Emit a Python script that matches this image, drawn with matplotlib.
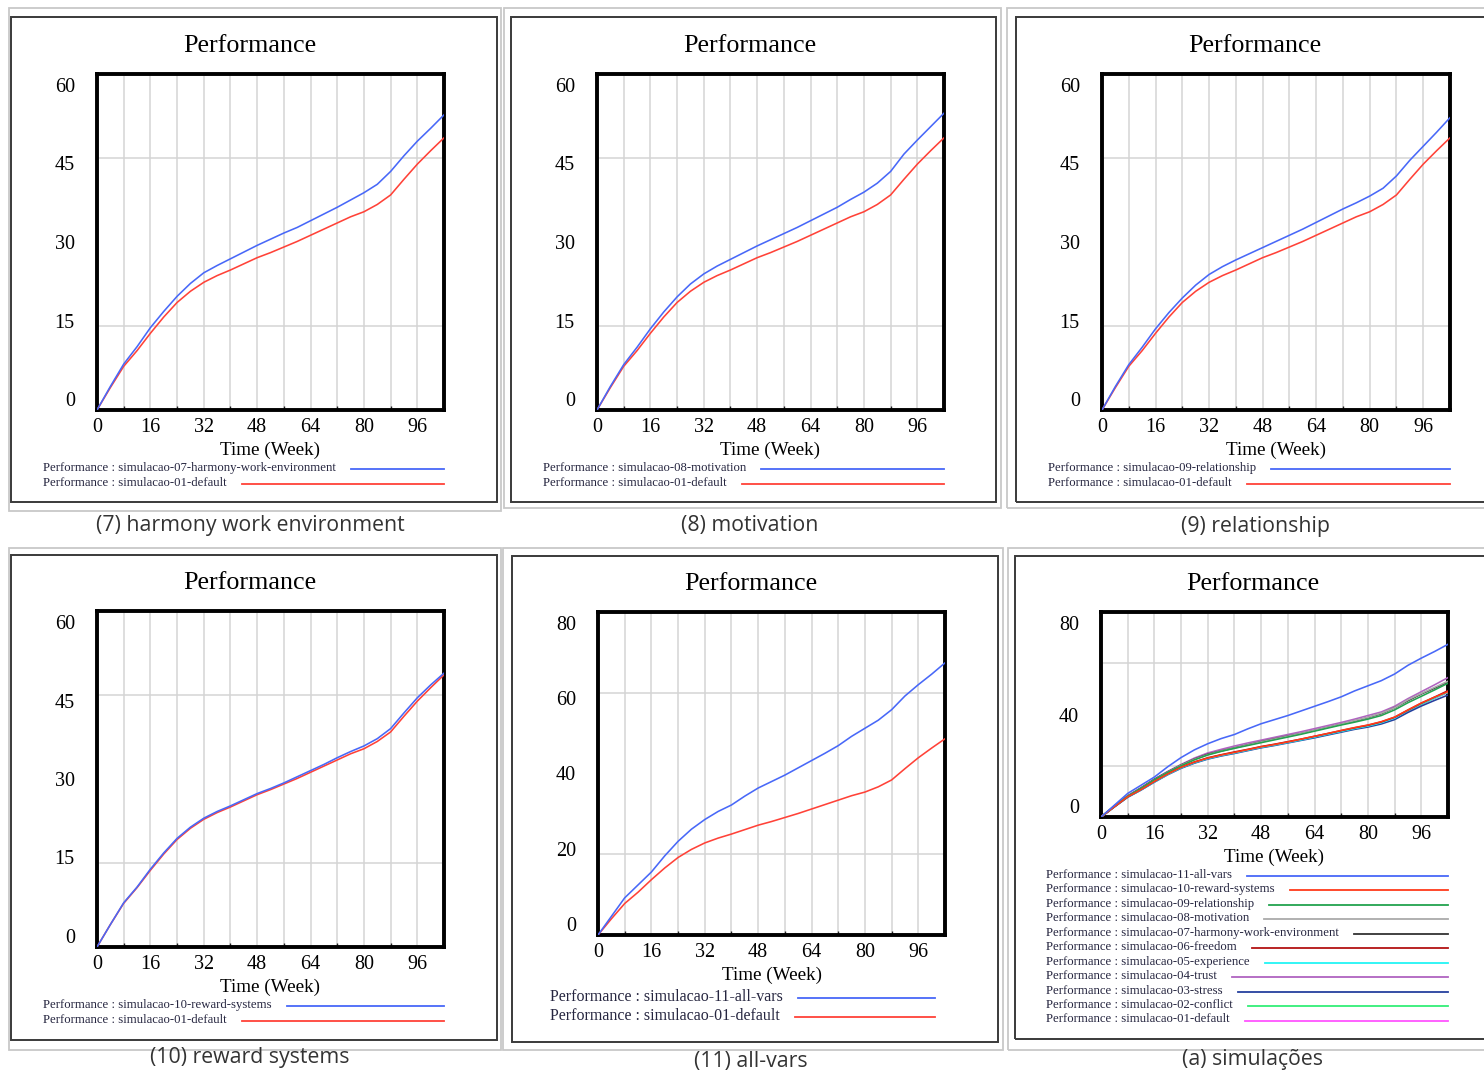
"""Six Vensim-style 'Performance' run charts (simulation comparisons)."""

import matplotlib

matplotlib.use("Agg")

import matplotlib.pyplot as plt
from matplotlib.lines import Line2D
from matplotlib.patches import Rectangle

W, H = 1484, 1073
SERIF = "Liberation Serif"
SANS = "Open Sans"

# time axis (weeks)
WEEKS = [0, 4, 8, 12, 16, 20, 24, 28, 32, 36, 40, 44, 48, 52,
         56, 60, 64, 68, 72, 76, 80, 84, 88, 92, 96, 100, 104]

# Performance per scenario
PERF_01_DEFAULT = [0, 4.0, 7.8, 10.6, 13.7, 16.6, 19.2, 21.2, 22.8, 24.0, 25.0, 26.1, 27.2, 28.1,
                   29.1, 30.1, 31.2, 32.3, 33.4, 34.5, 35.4, 36.7, 38.4, 41.2, 43.9, 46.3, 48.6]
PERF_02_CONFLICT = [0, 4.0, 7.8, 10.7, 13.8, 16.7, 19.3, 21.3, 22.9, 24.1, 25.1, 26.2, 27.3, 28.2,
                    29.2, 30.2, 31.3, 32.4, 33.5, 34.6, 35.6, 36.9, 38.6, 41.4, 44.0, 46.4, 48.7]
PERF_03_STRESS = [0, 3.9, 7.7, 10.5, 13.6, 16.5, 19.0, 21.0, 22.6, 23.8, 24.8, 25.9, 27.0, 27.9,
                  28.9, 29.9, 30.9, 32.0, 33.1, 34.2, 35.1, 36.3, 38.0, 40.8, 43.3, 45.5, 47.6]
PERF_04_TRUST = [0, 4.3, 8.3, 11.5, 14.8, 17.8, 20.5, 23.0, 25.0, 26.4, 27.7, 28.9, 30.0, 31.1,
                 32.2, 33.3, 34.5, 35.7, 36.9, 38.2, 39.6, 41.0, 43.2, 46.2, 48.9, 51.6, 54.4]
PERF_05_EXPERIENCE = [0, 4.0, 7.8, 10.6, 13.7, 16.6, 19.2, 21.2, 22.8, 24.0, 25.0, 26.1, 27.2, 28.1,
                      29.1, 30.1, 31.2, 32.3, 33.4, 34.5, 35.5, 36.8, 38.6, 41.6, 44.2, 46.5, 48.8]
PERF_06_FREEDOM = [0, 4.0, 7.9, 10.8, 13.9, 16.9, 19.5, 21.5, 23.1, 24.3, 25.4, 26.4, 27.5, 28.4,
                   29.4, 30.4, 31.5, 32.6, 33.7, 34.8, 35.8, 37.1, 38.9, 41.7, 44.4, 46.8, 49.3]
PERF_07_HARMONY = [0, 4.2, 8.2, 11.3, 14.7, 17.6, 20.3, 22.6, 24.5, 25.8, 27.0, 28.2, 29.4, 30.5,
                   31.6, 32.6, 33.8, 35.0, 36.2, 37.5, 38.8, 40.3, 42.6, 45.4, 48.0, 50.3, 52.7]
PERF_08_MOTIVATION = [0, 4.2, 8.1, 11.2, 14.5, 17.5, 20.2, 22.5, 24.3, 25.7, 26.9, 28.1, 29.3, 30.4,
                      31.5, 32.6, 33.8, 35.0, 36.2, 37.6, 38.9, 40.5, 42.6, 45.7, 48.2, 50.6, 53.0]
PERF_09_RELATIONSHIP = [0, 4.2, 8.1, 11.2, 14.5, 17.4, 20.0, 22.3, 24.2, 25.6, 26.8, 27.9, 29.0, 30.1,
                        31.2, 32.3, 33.5, 34.7, 35.9, 37.0, 38.2, 39.6, 41.8, 44.6, 47.1, 49.6, 52.2]
PERF_10_REWARD = [0, 4.0, 7.9, 10.7, 13.9, 16.8, 19.4, 21.4, 23.0, 24.2, 25.2, 26.3, 27.4, 28.3,
                  29.3, 30.4, 31.5, 32.6, 33.8, 34.9, 35.9, 37.2, 39.0, 41.8, 44.5, 46.8, 48.9]
PERF_11_ALL = [0, 4.6, 9.2, 12.4, 15.6, 19.6, 23.2, 26.2, 28.6, 30.6, 32.2, 34.4, 36.4, 38.0,
               39.6, 41.4, 43.2, 45.0, 46.9, 49.2, 51.2, 53.2, 55.8, 59.2, 62.0, 64.6, 67.4]

BLUE, RED = "#4868f8", "#ff4238"

SERIES = {
    "11-all-vars": (PERF_11_ALL, BLUE),
    "10-reward-systems": (PERF_10_REWARD, "#ff3a1a"),
    "09-relationship": (PERF_09_RELATIONSHIP, "#22a24e"),
    "08-motivation": (PERF_08_MOTIVATION, "#aaaaaa"),
    "07-harmony-work-environment": (PERF_07_HARMONY, "#333333"),
    "06-freedom": (PERF_06_FREEDOM, "#b31212"),
    "05-experience": (PERF_05_EXPERIENCE, "#22f5f5"),
    "04-trust": (PERF_04_TRUST, "#b063c0"),
    "03-stress": (PERF_03_STRESS, "#25409e"),
    "02-conflict": (PERF_02_CONFLICT, "#33ee77"),
    "01-default": (PERF_01_DEFAULT, "#ff55ff"),
}

# (caption, scenarios, y max, y labels, outer box, frame, axes, title x, caption y,
#  legend rows, legend x, legend font size)
PANELS = [
    ("(7) harmony work environment", ["07-harmony-work-environment", "01-default"], 60,
     [60, 45, 30, 15, 0], (9, 8, 501, 511), (11, 17, 497, 502), (97, 74, 444, 410),
     250, 526, [468, 483], 43, 9.2),
    ("(8) motivation", ["08-motivation", "01-default"], 60,
     [60, 45, 30, 15, 0], (504, 8, 1001, 508), (511, 17, 996, 502), (597, 74, 944, 410),
     750, 525, [468, 483], 543, 9.2),
    ("(9) relationship", ["09-relationship", "01-default"], 60,
     [60, 45, 30, 15, 0], (1007, 8, 1500, 508), (1016, 17, 1500, 502), (1102, 74, 1450, 410),
     1255, 527, [468, 483], 1048, 9.2),
    ("(10) reward systems", ["10-reward-systems", "01-default"], 60,
     [60, 45, 30, 15, 0], (9, 548, 501, 1050), (11, 555, 497, 1040), (97, 611, 444, 947),
     250, 1058, [1005, 1020], 43, 9.2),
    ("(11) all-vars", ["11-all-vars", "01-default"], 80,
     [80, 60, 40, 20, 0], (503, 548, 1003, 1050), (512, 556, 998, 1042), (598, 612, 945, 935),
     751, 1061, [997, 1016], 550, 11.5),
    ("(a) simulações", list(SERIES), 80,
     [80, 40, 0], (1008, 548, 1500, 1050), (1015, 556, 1500, 1039), (1101, 612, 1448, 817),
     1253, 1060, [875 + 14.45 * i for i in range(11)], 1046, 9.2),
]


def fx(px):
    return px / W


def fy(py):
    return 1 - py / H


def series_color(key, keys):
    # two-run comparisons use Vensim's default blue / red pair
    if len(keys) == 2:
        return RED if key == "01-default" else BLUE
    return SERIES[key][1]


fig = plt.figure(figsize=(W / 100, H / 100), dpi=100)
renderer = fig.canvas.get_renderer()

for (caption, keys, ymax, ylabels, outer, frame, box, title_x, cap_y,
     leg_rows, leg_x, leg_fs) in PANELS:
    # page border of the pasted image and the Vensim window frame
    for (l, t, r, b), ec, lw in ((outer, "#c8c8c8", 1.3), (frame, "#3a3a3a", 1.4)):
        fig.add_artist(Rectangle((fx(l), fy(b)), fx(r - l), (b - t) / H, fill=False,
                                 ec=ec, lw=lw, transform=fig.transFigure))

    l, t, r, b = box
    ax = fig.add_axes([fx(l), fy(b), fx(r - l), (b - t) / H])
    for i, key in enumerate(keys):
        ax.plot(WEEKS, SERIES[key][0], color=series_color(key, keys), lw=1.15,
                zorder=3 + len(keys) - i)

    ax.set_xlim(0, 104)
    ax.set_ylim(0, ymax)
    ax.set_xticks(range(0, 104, 16))
    ax.set_xticks(range(8, 104, 8), minor=True)
    # Vensim pulls the value labels ~11px inside the plot edges
    squeeze = 1 - 22 / (b - t)
    mid = ymax / 2
    ax.set_yticks([mid + (v - mid) * squeeze for v in ylabels])
    ax.set_yticklabels([str(v) for v in ylabels])
    ax.set_yticks([ymax * q / 4 for q in (1, 2, 3)], minor=True)
    ax.tick_params(axis="y", which="both", length=0, pad=16, labelsize=14.5)
    ax.tick_params(axis="x", which="major", length=0, pad=6, labelsize=14.5)
    ax.tick_params(axis="x", which="minor", direction="in", length=3, width=1, color="#222222")
    for lab in ax.get_xticklabels() + ax.get_yticklabels():
        lab.set_fontfamily(SERIF)
    ax.grid(True, which="both", color="#d4d4d4", lw=1.1)
    ax.grid(False, which="major", axis="y")
    ax.set_axisbelow(True)
    for sp in ax.spines.values():
        sp.set_linewidth(2.8)
        sp.set_color("black")
    ax.set_xlabel("Time (Week)", fontfamily=SERIF, fontsize=13.8, labelpad=3)

    fig.text(fx(title_x), fy(t - 28), "Performance", fontfamily=SERIF, fontsize=18.8,
             ha="center", va="center")

    # Vensim legend: label text, then a line running to the right edge of the plot
    line_end = r - 10 if (len(keys) == 2 and ymax == 80) else r
    for key, row in zip(keys, leg_rows):
        txt = fig.text(fx(leg_x), fy(row), f"Performance : simulacao-{key}", fontfamily=SERIF,
                       fontsize=leg_fs, color="#262640", ha="left", va="center")
        x1 = txt.get_window_extent(renderer).x1
        fig.add_artist(Line2D([fx(x1 + 15), fx(line_end)], [fy(row + 1), fy(row + 1)],
                              color=series_color(key, keys), lw=1.3,
                              transform=fig.transFigure))

    fig.text(fx(title_x), fy(cap_y), caption, fontfamily=SANS, fontsize=15.3,
             color="#333333", ha="center", va="center")

fig.savefig("out.png", dpi=100, facecolor="white")
